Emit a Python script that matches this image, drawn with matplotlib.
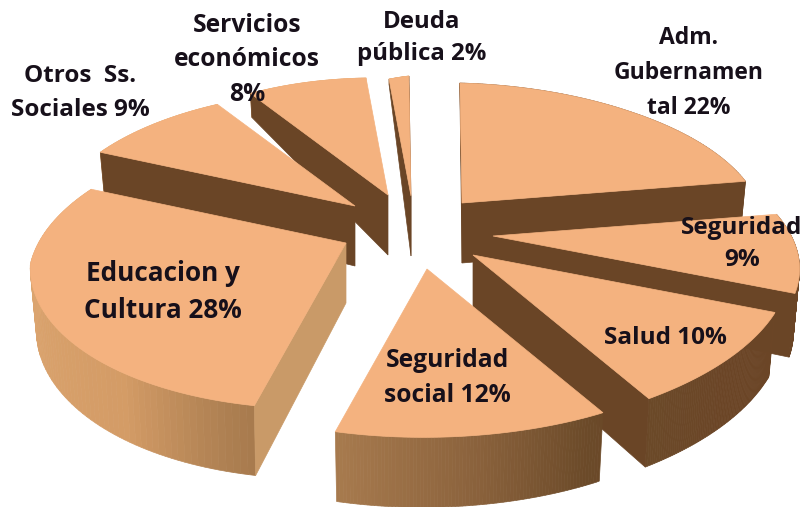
import numpy as np
import matplotlib
matplotlib.use("Agg")
import matplotlib.pyplot as plt
from matplotlib.patches import Polygon

# datos del grafico, en sentido horario desde las 12
categorias = ["Adm.\nGubernamen\ntal ", "Seguridad\n", "Salud ", "Seguridad\nsocial ",
              "Educacion y\nCultura ", "Otros  Ss.\nSociales ", "Servicios\neconómicos\n", "Deuda\npública "]
valores = [22, 9, 10, 12, 28, 9, 8, 2]

# desplazamiento de cada porcion (explode) respecto al centro, en pixeles
centro = (430, 235)
explode_x = [32, 63, 43, -3, -84, -75, -42, -19]
explode_y = [-32, 1, 20, 34, 8, -29, -40, -39]
etiqueta_xy = [(689, 73), (742, 244), (665, 338), (447, 378),
               (163, 292), (80, 93), (247, 60), (422, 38)]
etiqueta_pt = [16.5, 17.5, 17.5, 17.7, 18.8, 17.5, 17.7, 17.3]
etiqueta_esp = [1.62, 1.5, 1.5, 1.5, 1.45, 1.55, 1.5, 1.5]
orden = [0, 1, 2, 3, 7, 6, 5, 4]

# correccion de la perspectiva del original segun el angulo
corr_ang = [0, 40, 79, 112, 148, 191, 260, 292, 324, 353, 360]
corr_x = [-9, -5, 0, 12, -1, -16, -14, 2, 10, 3, -9]
corr_y = [0, 0, -1, 0, 6, -2, 0, 0, 2, 3, 0]

COLOR_TOP = "#F4B27F"
COLOR_OSCURO = "#6A4526"
COLOR_EDU = "#C99A68"
ang_color = [60, 130, 150, 170, 195, 215, 300]
col_color = [(0.42, 0.27, 0.15), (0.42, 0.27, 0.15), (0.42, 0.29, 0.16), (0.55, 0.39, 0.24),
             (0.68, 0.50, 0.32), (0.83, 0.61, 0.40), (0.89, 0.68, 0.47)]


def proyectar(theta):
    u, v = np.sin(theta), np.cos(theta)
    w = 1 + 0.167 * v
    grados = np.degrees(theta)
    x = (296 * u + 8 * v) / w + np.interp(grados, corr_ang, corr_x)
    y = (-140 * v + 4.3 * u) / (w + 0.03 * u) + np.interp(grados, corr_ang, corr_y)
    return x, y


def grosor(theta):
    u, v = np.sin(theta), np.cos(theta)
    t = np.where(v > 0, 60 - 55 * v ** 2, 60 - 10 * v)
    return -0.1 * t * u, t


def color_lado(grados):
    return [np.interp(grados, ang_color, [c[i] for c in col_color]) for i in range(3)]


fig, ax = plt.subplots(figsize=(8.03, 5.07), dpi=100)
ax.set_position([0, 0, 1, 1])
ax.set_xlim(0, 803)
ax.set_ylim(507, 0)
ax.axis("off")

cortes = np.cumsum([0] + valores) / sum(valores) * 2 * np.pi

for i in orden:
    a0, a1 = cortes[i], cortes[i + 1]
    ax0 = centro[0] + explode_x[i]
    ay0 = centro[1] + explode_y[i]
    arco = np.linspace(a0, a1, 80)
    px, py = proyectar(arco)
    px = px + ax0
    py = py + ay0
    dx, dy = grosor(arco)
    capa = orden.index(i) * 3

    # lado curvo exterior, en tiras para el degradado
    for k in range(len(arco) - 1):
        tira = [(px[k], py[k]), (px[k + 1], py[k + 1]),
                (px[k + 1] + dx[k + 1], py[k + 1] + dy[k + 1]), (px[k] + dx[k], py[k] + dy[k])]
        c = color_lado(np.degrees(arco[k]))
        ax.add_patch(Polygon(tira, closed=True, fc=c, ec=c, lw=0.5, zorder=capa + 1))

    # lados rectos, solo los que miran al frente
    c_lado = COLOR_EDU if categorias[i].startswith("Educacion") else COLOR_OSCURO
    visibles = []
    if np.sin(a0) < 0.01:
        visibles.append(0)
    if np.sin(a1) > -0.01:
        visibles.append(-1)
    for j in visibles:
        lado = [(ax0, ay0), (px[j], py[j]), (px[j] + dx[j], py[j] + dy[j]), (ax0, ay0 + 60)]
        ax.add_patch(Polygon(lado, closed=True, fc=c_lado, ec=c_lado, lw=0.5, zorder=capa + 2))

    # cara superior
    cara = [(ax0, ay0)] + list(zip(px, py))
    ax.add_patch(Polygon(cara, closed=True, fc=COLOR_TOP, ec=COLOR_TOP, lw=0.5, zorder=capa + 3))

for nombre, val, pt, esp, (x, y) in zip(categorias, valores, etiqueta_pt, etiqueta_esp, etiqueta_xy):
    ax.text(x, y, f"{nombre}{val}%", ha="center", va="center", fontsize=pt, fontweight="bold",
            family="Open Sans", color="#17101A", linespacing=esp, zorder=100)

fig.savefig("out.png", dpi=100)
